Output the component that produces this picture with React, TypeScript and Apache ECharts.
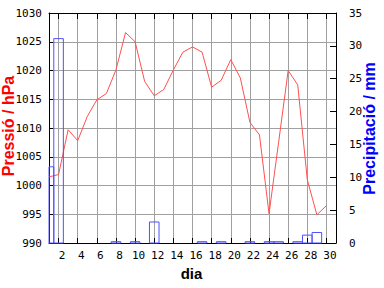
import React, { useEffect, useRef } from "react";
import * as echarts from "echarts";

const days = [1, 2, 3, 4, 5, 6, 7, 8, 9, 10, 11, 12, 13, 14, 15, 16, 17, 18, 19, 20, 21, 22, 23, 24, 25, 26, 27, 28, 29, 30];
const pressure = [1001.5, 1001.9, 1009.7, 1007.8, 1012.0, 1014.9, 1016.0, 1020.1, 1026.6, 1025.0, 1018.1, 1015.6, 1016.7, 1020.1, 1023.2, 1024.1, 1023.2, 1017.1, 1018.3, 1021.9, 1018.7, 1011.0, 1008.8, 995.1, 1007.5, 1020.0, 1017.5, 1001.0, 994.9, 996.5];
const precipDays = [1, 2, 8, 10, 12, 17, 19, 22, 24, 25, 27, 28, 29];
const precip = [11.6, 31.1, 0.2, 0.2, 3.2, 0.2, 0.2, 0.2, 0.2, 0.2, 0.2, 1.2, 1.6];
const dayTicks = [2, 4, 6, 8, 10, 12, 14, 16, 18, 20, 22, 24, 26, 28, 30];

const MONO = "DejaVu Sans Mono";
const SANS = "Liberation Sans";

export default function App() {
  const ref = useRef<HTMLDivElement>(null);
  useEffect(() => {
    if (!ref.current) return;
    const chart = echarts.init(ref.current, undefined, { renderer: "svg" });
    const tickLabel = { fontFamily: MONO, fontSize: 11, color: "#000", formatter: (v: number) => String(v) };
    chart.setOption({
      animation: false,
      backgroundColor: "#fff",
      grid: { left: 49, top: 13, width: 287, height: 230, containLabel: false },
      xAxis: [
        {
          type: "value",
          position: "bottom",
          min: 1,
          max: 31,
          axisLine: { show: true, onZero: false, lineStyle: { color: "#000", width: 1 } },
          axisTick: { show: true, inside: true, length: 5, customValues: dayTicks, lineStyle: { color: "#000" } },
          axisLabel: { ...tickLabel, customValues: dayTicks, margin: 7, padding: [0, 0, 0, 7] },
          splitLine: { show: true, lineStyle: { color: "#a0a0a0", width: 1 } },
        },
        {
          type: "value",
          position: "top",
          min: 1,
          max: 31,
          axisLine: { show: true, onZero: false, lineStyle: { color: "#000", width: 1 } },
          axisTick: { show: true, inside: true, length: 6, customValues: dayTicks, lineStyle: { color: "#000" } },
          axisLabel: { show: false },
          splitLine: { show: false },
        },
      ],
      yAxis: [
        {
          type: "value",
          position: "left",
          min: 990,
          max: 1030,
          interval: 5,
          axisLine: { show: true, onZero: false, lineStyle: { color: "#000", width: 1 } },
          axisTick: { show: true, inside: true, length: 4, lineStyle: { color: "#000" } },
          axisLabel: { ...tickLabel, margin: 7 },
          splitLine: { show: true, showMinLine: false, showMaxLine: false, lineStyle: { color: "#a0a0a0", width: 1 } },
        },
        {
          type: "value",
          position: "right",
          min: 0,
          max: 35,
          interval: 5,
          axisLine: { show: true, onZero: false, lineStyle: { color: "#000", width: 1 } },
          axisTick: { show: true, inside: true, length: 6, lineStyle: { color: "#000" } },
          axisLabel: { ...tickLabel, margin: 13 },
          splitLine: { show: false },
        },
      ],
      series: [
        {
          type: "custom",
          xAxisIndex: 0,
          yAxisIndex: 1,
          z: 4,
          data: precipDays.map((d, i) => [d, precip[i]]),
          renderItem: (params: any, api: any) => {
            const d = api.value(0);
            const v = api.value(1);
            const p0 = api.coord([d - 0.5, v]);
            const p1 = api.coord([d + 0.5, 0]);
            const cs = params.coordSys;
            const r = echarts.graphic.clipRectByRect(
              { x: p0[0], y: p0[1], width: p1[0] - p0[0], height: p1[1] - p0[1] },
              { x: cs.x, y: cs.y, width: cs.width, height: cs.height }
            );
            if (!r) return null;
            return {
              type: "rect",
              shape: r,
              style: { fill: "none", stroke: "#5050ff", lineWidth: 1 },
            };
          },
        },
        {
          type: "line",
          xAxisIndex: 0,
          yAxisIndex: 0,
          showSymbol: false,
          symbol: "none",
          clip: true,
          data: days.map((d, i) => [d, pressure[i]]),
          lineStyle: { color: "#ff5050", width: 1 },
          z: 3,
        },
      ],
      graphic: [
        {
          type: "text",
          x: 8,
          y: 126,
          rotation: Math.PI / 2,
          style: { text: "Pressió / hPa", fill: "#ff0000", font: `bold 16px "${SANS}"`, align: "center", verticalAlign: "middle" },
        },
        {
          type: "text",
          x: 369.5,
          y: 128.5,
          rotation: Math.PI / 2,
          style: { text: "Precipitació / mm", fill: "#0000ff", font: `bold 16px "${SANS}"`, align: "center", verticalAlign: "middle" },
        },
        {
          type: "text",
          x: 191.5,
          y: 273,
          style: { text: "dia", fill: "#000", font: `bold 15px "${SANS}"`, align: "center", verticalAlign: "middle" },
        },
      ],
    });
    return () => chart.dispose();
  }, []);
  return <div ref={ref} style={{ position: "absolute", left: 0, top: 0, width: 384, height: 288 }} />;
}
